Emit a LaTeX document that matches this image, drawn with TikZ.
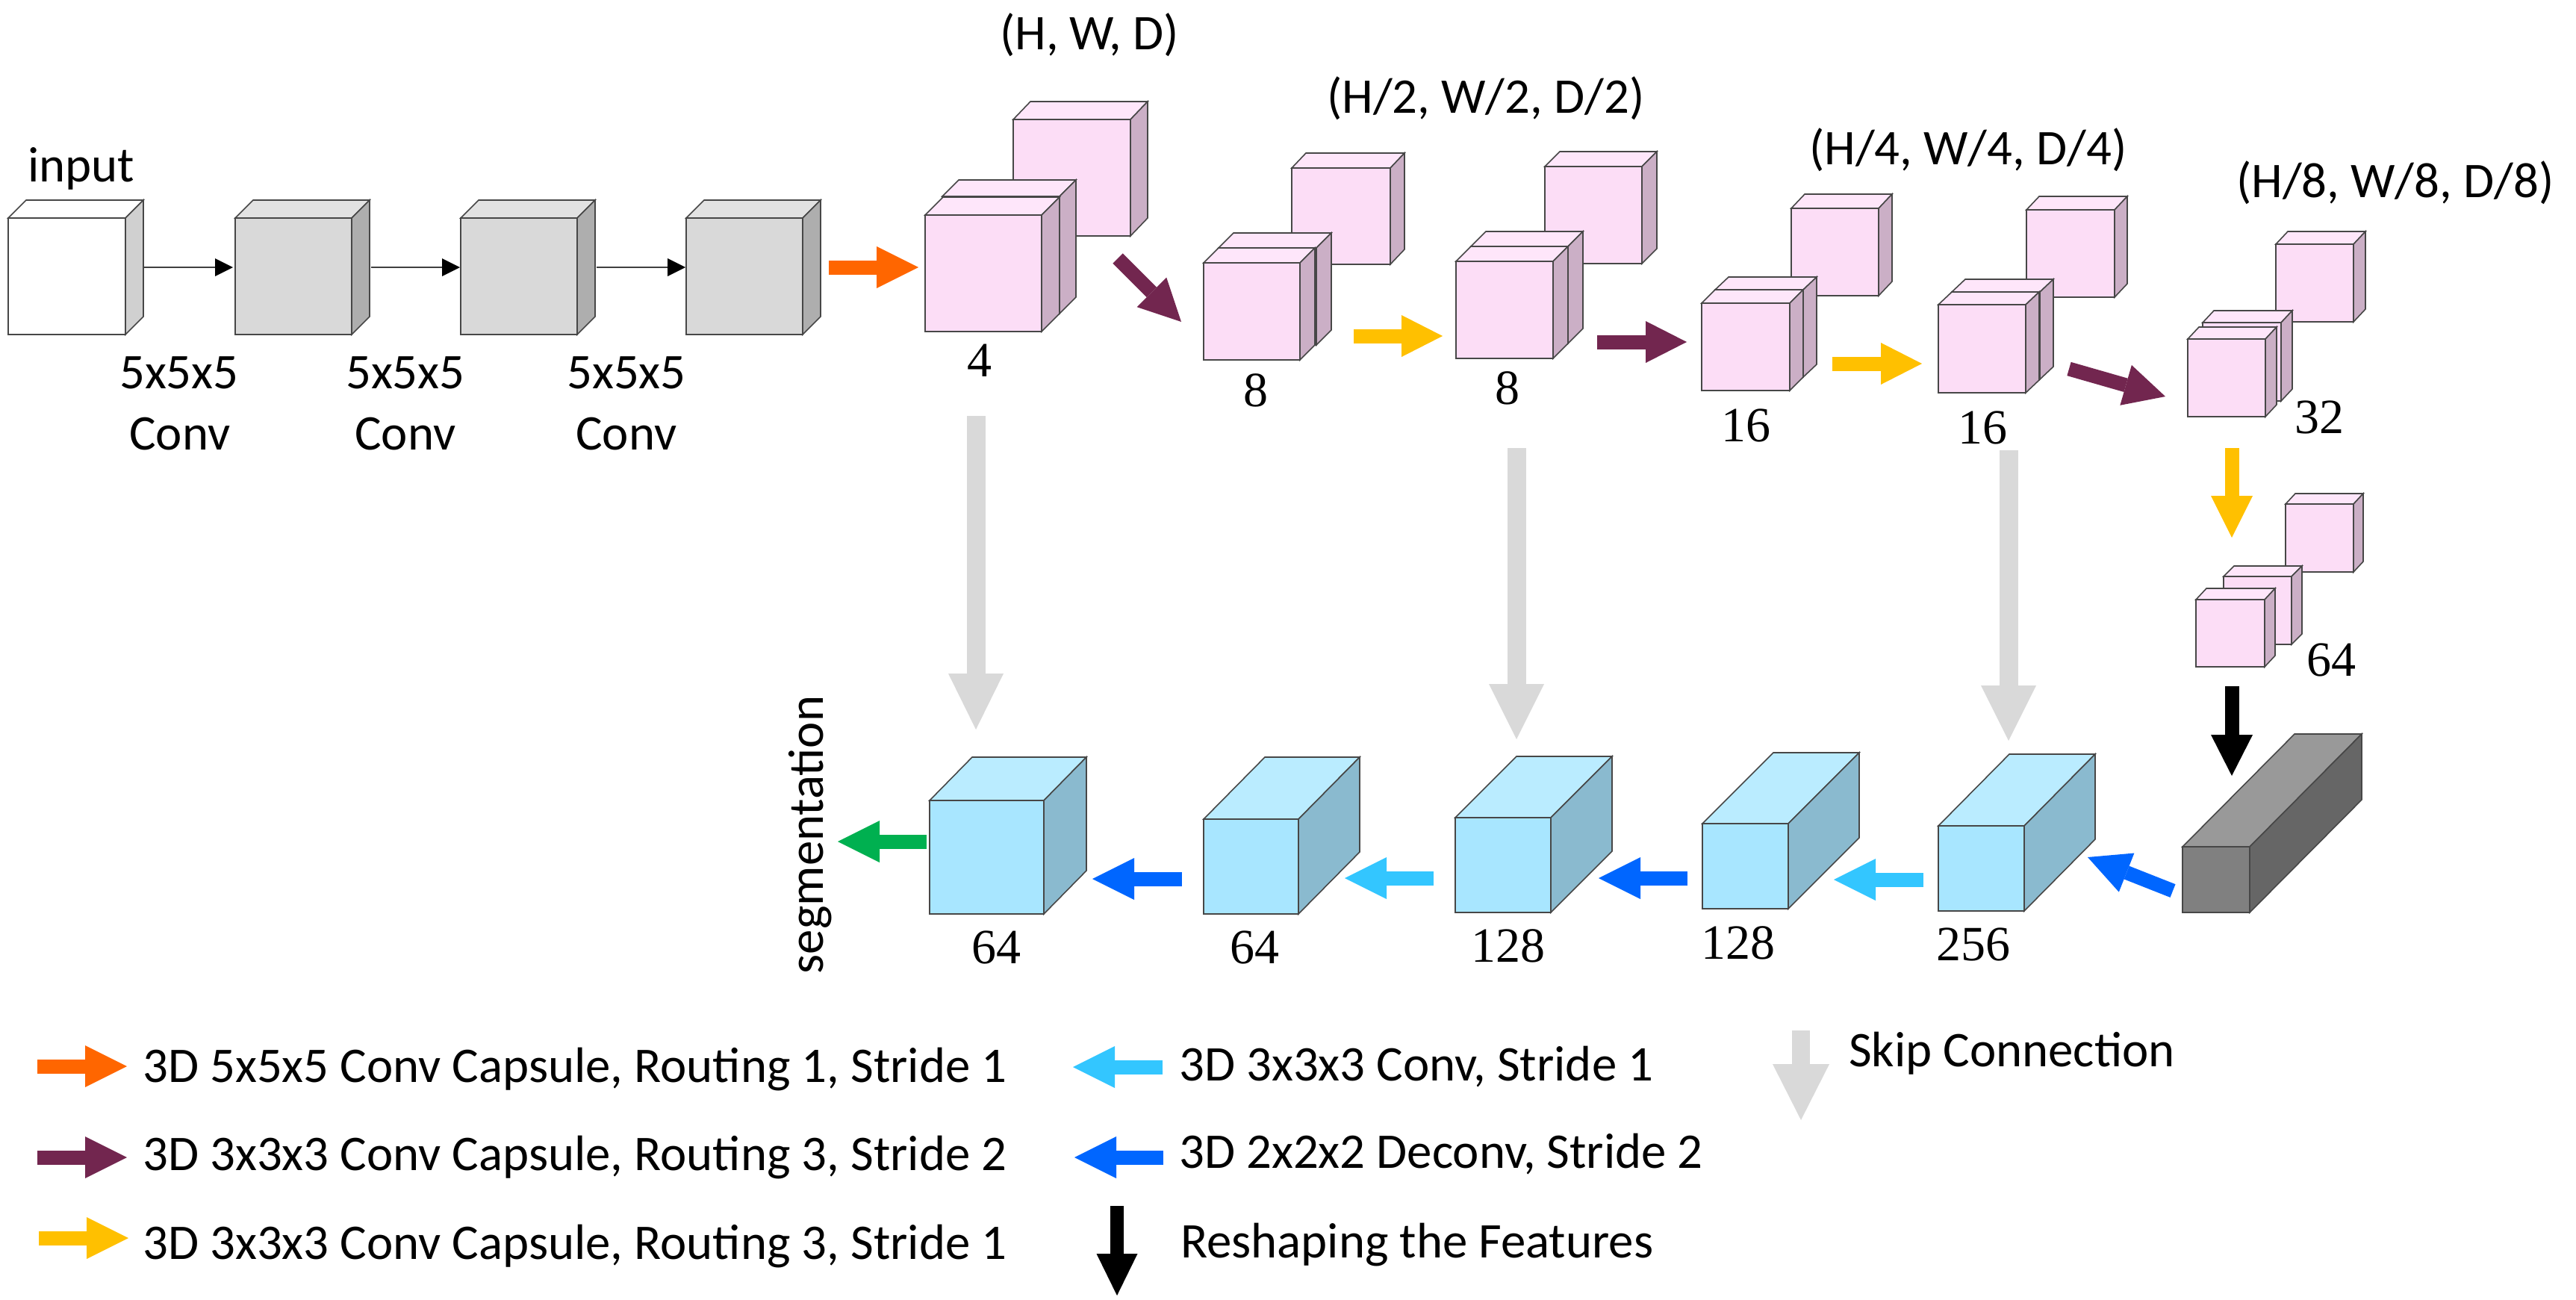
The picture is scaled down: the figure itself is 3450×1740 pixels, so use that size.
\documentclass[tikz,border=0pt]{standalone}
\usepackage{fontspec}
\setmainfont{Carlito}
\newfontfamily\numfont{Liberation Serif}
\usetikzlibrary{arrows.meta}
\definecolor{pinkF}{HTML}{FCDDF6}\definecolor{pinkT}{HTML}{FEE6FA}\definecolor{pinkS}{HTML}{CBAFC6}
\definecolor{greyF}{HTML}{D9D9D9}\definecolor{greyT}{HTML}{E2E2E2}\definecolor{greyS}{HTML}{AEAEAE}
\definecolor{inpF}{HTML}{FFFFFF}\definecolor{inpT}{HTML}{FFFFFF}\definecolor{inpS}{HTML}{D0D0D0}
\definecolor{blueF}{HTML}{A8E6FF}\definecolor{blueT}{HTML}{BAECFF}\definecolor{blueS}{HTML}{8ABACF}
\definecolor{slabF}{HTML}{808080}\definecolor{slabT}{HTML}{999999}\definecolor{slabS}{HTML}{666666}
\definecolor{cOrange}{HTML}{FF6600}\definecolor{cPurple}{HTML}{72264F}\definecolor{cYellow}{HTML}{FFC000}
\definecolor{cCyan}{HTML}{33C6FF}\definecolor{cBlue}{HTML}{0066FF}\definecolor{cGreen}{HTML}{00B050}
\definecolor{cSkip}{HTML}{D9D9D9}
\tikzset{
  cubeedge/.style={draw=black!72,line width=1.6pt,line join=miter},
  sanslabel/.style={inner sep=0pt,anchor=base west,xshift=-3pt,font=\fontsize{66.8}{70}\selectfont},
  numlabel/.style={inner sep=0pt,anchor=base,font=\fontsize{66}{70}\selectfont\numfont},
  thinarrow/.style={draw=black!75,line width=1.6pt,-{Triangle[length=24pt,width=24pt,line width=0pt,fill=black]}},
}
% name, x, y (front top-left), w, h, dx, dy, colour prefix
\newcommand\boxcube[8]{%
  \draw[cubeedge,fill=#8T] (#2,#3) -- ++(#6,-#7) -- ++(#4,0) -- ++(-#6,#7) -- cycle;
  \draw[cubeedge,fill=#8S] (#2+#4,#3) -- ++(#6,-#7) -- ++(0,#5) -- ++(-#6,#7) -- cycle;
  \draw[cubeedge,fill=#8F] (#2,#3) rectangle ++(#4,#5);
  \coordinate (#1) at (#2,#3);
}
% name, x1,y1, x2,y2, shaft, head length, head width, colour
\newcommand\blockarrow[9]{%
  \coordinate (#1s) at (#2,#3);
  \coordinate (#1e) at (#4,#5);
  \draw[draw=#9,line width=#6pt,-{Triangle[length=#7pt,width=#8pt,line width=0pt,fill=#9]}] (#1s) -- (#1e);
}
\begin{document}
\begin{tikzpicture}[x=1pt,y=-1pt]
\useasboundingbox (0,0) rectangle (3450,1740);
\fill[white] (0,0) rectangle (3450,1740);
% input stage
\boxcube{cIn}{11}{292}{157}{156}{24}{24}{inp}
\boxcube{cA}{315}{292}{156}{156}{24}{24}{grey}
\boxcube{cB}{617}{292}{156}{156}{24}{24}{grey}
\boxcube{cC}{919}{292}{156}{156}{24}{24}{grey}
\coordinate (t1s) at (192,358); \coordinate (t1e) at (312,358);
\coordinate (t2s) at (497,358); \coordinate (t2e) at (616,358);
\coordinate (t3s) at (799,358); \coordinate (t3e) at (918,358);
\draw[thinarrow] (t1s) -- (t1e);
\draw[thinarrow] (t2s) -- (t2e);
\draw[thinarrow] (t3s) -- (t3e);
% encoder capsules
\boxcube{g1r}{1357}{160}{157}{156}{23}{24}{pink}
\boxcube{g1m}{1262}{263}{157}{157}{22}{22}{pink}
\boxcube{g1f}{1239}{288}{156}{156}{24}{24}{pink}
\boxcube{g2r}{1730}{225}{132}{129}{19}{20}{pink}
\boxcube{g2m}{1632}{332}{131}{130}{20}{20}{pink}
\boxcube{g2f}{1612}{352}{129}{130}{20}{20}{pink}
\boxcube{g3r}{2069}{223}{130}{130}{20}{20}{pink}
\boxcube{g3m}{1970}{330}{130}{130}{20}{20}{pink}
\boxcube{g3f}{1950}{350}{130}{130}{20}{20}{pink}
\boxcube{g4r}{2399}{279}{117}{117}{18}{19}{pink}
\boxcube{g4m}{2297}{388}{118}{117}{18}{17}{pink}
\boxcube{g4f}{2279}{406}{118}{117}{18}{18}{pink}
\boxcube{g5r}{2714}{281}{118}{117}{17}{18}{pink}
\boxcube{g5m}{2614}{391}{118}{117}{18}{17}{pink}
\boxcube{g5f}{2596}{408}{117}{118}{18}{17}{pink}
\boxcube{g6r}{3048}{327}{104}{104}{16}{17}{pink}
\boxcube{g6m}{2950}{432}{105}{105}{15}{16}{pink}
\boxcube{g6f}{2930}{454}{104}{104}{15}{16}{pink}
\boxcube{g7r}{3061}{675}{91}{91}{13}{14}{pink}
\boxcube{g7m}{2978}{772}{91}{91}{14}{14}{pink}
\boxcube{g7f}{2941}{803}{92}{90}{14}{15}{pink}
% bottleneck and decoder
\boxcube{slab}{2923}{1134}{90}{88}{150}{151}{slab}
\boxcube{d5}{2596}{1106}{115}{114}{95}{96}{blue}
\boxcube{d4}{2280}{1103}{115}{114}{95}{95}{blue}
\boxcube{d3}{1949}{1095}{128}{127}{82}{82}{blue}
\boxcube{d2}{1612}{1097}{127}{127}{82}{83}{blue}
\boxcube{d1}{1245}{1072}{153}{152}{57}{58}{blue}
% block arrows
\blockarrow{a1}{1110}{358}{1230}{358}{19}{56}{56}{cOrange}
\blockarrow{a2}{1497}{346}{1582}{431}{19}{56}{56}{cPurple}
\blockarrow{a3}{1813}{450}{1932}{450}{19}{55}{56}{cYellow}
\blockarrow{a4}{2139}{458}{2259}{458}{19}{55}{56}{cPurple}
\blockarrow{a5}{2454}{487}{2574}{487}{19}{55}{56}{cYellow}
\blockarrow{a6}{2771}{494}{2900}{531}{19}{55}{56}{cPurple}
\blockarrow{a7}{2989}{600}{2989}{720}{19}{56}{56}{cYellow}
\blockarrow{a8}{2989}{919}{2989}{1039}{19}{55}{56}{black}
\blockarrow{a9}{2910}{1193}{2796}{1148}{19}{56}{56}{cBlue}
\blockarrow{a10}{2576}{1178}{2456}{1178}{19}{56}{56}{cCyan}
\blockarrow{a11}{2260}{1176}{2141}{1176}{19}{56}{56}{cBlue}
\blockarrow{a12}{1920}{1176}{1801}{1176}{19}{56}{56}{cCyan}
\blockarrow{a13}{1583}{1177}{1463}{1177}{19}{56}{56}{cBlue}
\blockarrow{a14}{1241}{1127}{1122}{1127}{19}{56}{56}{cGreen}
% skip connections
\blockarrow{s1}{1307}{557}{1307}{977}{25}{75}{74}{cSkip}
\blockarrow{s2}{2031}{600}{2031}{990}{25}{74}{74}{cSkip}
\blockarrow{s3}{2690}{603}{2690}{992}{25}{74}{74}{cSkip}
% top labels
\node[sanslabel] (tIn) at (40,243) {input};
\node[sanslabel] (kA) at (163,520) {5x5x5};
\node[sanslabel] (kB) at (466,520) {5x5x5};
\node[sanslabel] (kC) at (762,520) {5x5x5};
\node[sanslabel] (oA) at (176,602) {Conv};
\node[sanslabel] (oB) at (478,602) {Conv};
\node[sanslabel] (oC) at (774,602) {Conv};
\node[sanslabel] (dim1) at (1342,66) {(H, W, D)};
\node[sanslabel] (dim2) at (1780,151) {(H/2, W/2, D/2)};
\node[sanslabel] (dim3) at (2426,220) {(H/4, W/4, D/4)};
\node[sanslabel] (dim4) at (2998,264) {(H/8, W/8, D/8)};
\node[numlabel] (n1) at (1312,504) {4};
\node[numlabel] (n2) at (1682,544) {8};
\node[numlabel] (n3) at (2019,541) {8};
\node[numlabel] (n4) at (2338,591) {16};
\node[numlabel] (n5) at (2655,594) {16};
\node[numlabel] (n6) at (3106,580) {32};
\node[numlabel] (n7) at (3122,905) {64};
\node[numlabel] (m5) at (2643,1286) {256};
\node[numlabel] (m4) at (2328,1284) {128};
\node[numlabel] (m3) at (2020,1288) {128};
\node[numlabel] (m2) at (1680,1290) {64};
\node[numlabel] (m1) at (1334,1290) {64};
\node[sanslabel,anchor=base,rotate=90] (seg) at (1105,1118) {segmentation};
% legend
\blockarrow{l1}{50}{1428}{170}{1428}{19}{56}{56}{cOrange}
\blockarrow{l2}{50}{1550}{170}{1550}{19}{56}{56}{cPurple}
\blockarrow{l3}{52}{1658}{172}{1658}{19}{56}{56}{cYellow}
\blockarrow{l4}{1557}{1429}{1437}{1429}{19}{56}{56}{cCyan}
\blockarrow{l5}{1558}{1550}{1439}{1550}{19}{56}{56}{cBlue}
\blockarrow{l6}{1496}{1615}{1496}{1735}{18}{56}{55}{black}
\blockarrow{l7}{2412}{1380}{2412}{1500}{24}{75}{76}{cSkip}
\node[sanslabel] (lt1) at (194,1449) {3D 5x5x5 Conv Capsule, Routing 1, Stride 1};
\node[sanslabel] (lt2) at (194,1567) {3D 3x3x3 Conv Capsule, Routing 3, Stride 2};
\node[sanslabel] (lt3) at (194,1686) {3D 3x3x3 Conv Capsule, Routing 3, Stride 1};
\node[sanslabel] (lt4) at (1582,1447) {3D 3x3x3 Conv, Stride 1};
\node[sanslabel] (lt5) at (1582,1564) {3D 2x2x2 Deconv, Stride 2};
\node[sanslabel] (lt6) at (1584,1684) {Reshaping the Features};
\node[sanslabel] (lt7) at (2479,1428) {Skip Connection};
\end{tikzpicture}
\end{document}
